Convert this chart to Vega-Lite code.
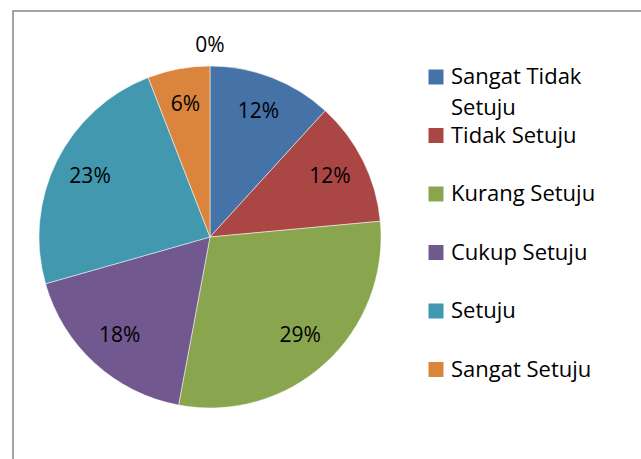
{
  "$schema": "https://vega.github.io/schema/vega-lite/v6.json",
  "width": 342,
  "height": 342,
  "autosize": {"type": "none"},
  "padding": {"left": 39, "top": 66, "right": 260, "bottom": 51},
  "background": "white",
  "data": {
    "values": [
      {"category": "Sangat Tidak Setuju", "count": 2, "order": 1, "label": "12%"},
      {"category": "Tidak Setuju", "count": 2, "order": 2, "label": "12%"},
      {"category": "Kurang Setuju", "count": 5, "order": 3, "label": "29%"},
      {"category": "Cukup Setuju", "count": 3, "order": 4, "label": "18%"},
      {"category": "Setuju", "count": 4, "order": 5, "label": "23%"},
      {"category": "Sangat Setuju", "count": 1, "order": 6, "label": "6%"},
      {"category": "Lainnya", "count": 0, "order": 7, "label": "0%"}
    ]
  },
  "config": {
    "view": {"stroke": null},
    "style": {"guide-label": {"lineHeight": 31}}
  },
  "layer": [
    {
      "data": {"values": [{"frame": 1}]},
      "mark": {"type": "rect", "x": -26, "y": -55, "x2": 720, "y2": 720, "filled": false, "stroke": "#868686", "strokeWidth": 1.5},
      "encoding": {}
    },
    {
      "transform": [{"filter": "datum.count > 0"}],
      "mark": {"type": "arc", "stroke": "white", "strokeWidth": 0.5},
      "encoding": {
        "theta": {"field": "count", "type": "quantitative", "stack": true},
        "order": {"field": "order", "type": "quantitative"},
        "color": {
          "field": "category",
          "type": "nominal",
          "scale": {
            "domain": ["Sangat Tidak Setuju", "Tidak Setuju", "Kurang Setuju", "Cukup Setuju", "Setuju", "Sangat Setuju"],
            "range": ["#4572A7", "#AA4643", "#89A54E", "#71588F", "#4198AF", "#DB843D"]
          },
          "legend": {
            "title": null,
            "orient": "none",
            "direction": "vertical",
            "columns": 1,
            "gridAlign": "all",
            "legendX": 386,
            "legendY": 0,
            "symbolType": "square",
            "symbolSize": 225,
            "symbolStrokeWidth": 0,
            "labelFont": "Open Sans",
            "labelFontSize": 22,
            "labelColor": "black",
            "labelOffset": 4,
            "labelLimit": 300,
            "rowPadding": 5.5,
            "labelExpr": "datum.label == 'Sangat Tidak Setuju' ? ['Sangat Tidak', 'Setuju'] : datum.label"
          }
        }
      }
    },
    {
      "transform": [{"filter": "datum.count > 0"}],
      "mark": {"type": "text", "radius": 134, "font": "Open Sans", "fontSize": 21, "color": "black"},
      "encoding": {
        "theta": {"field": "count", "type": "quantitative", "stack": true},
        "order": {"field": "order", "type": "quantitative"},
        "text": {"field": "label"}
      }
    },
    {
      "transform": [{"filter": "datum.count == 0"}],
      "mark": {"type": "text", "radius": 191, "font": "Open Sans", "fontSize": 21, "color": "black"},
      "encoding": {
        "theta": {"field": "count", "type": "quantitative", "stack": true},
        "text": {"field": "label"}
      }
    }
  ]
}
